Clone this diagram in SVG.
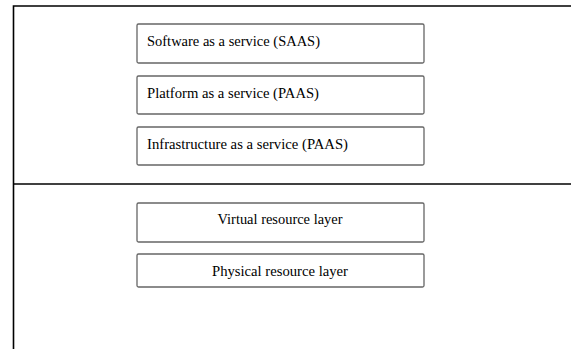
<svg xmlns="http://www.w3.org/2000/svg" width="571" height="349" viewBox="0 0 571 349">
<style>
.frame{stroke:#000;stroke-width:1.6;fill:none}
.box{fill:#fff;stroke:#666;stroke-width:1.3}
.lbl{font-family:"Liberation Serif","Times New Roman",serif;font-size:15px;fill:#000}
.c{text-anchor:middle}
</style>
<rect width="571" height="349" fill="#fff"/>
<g id="frame">
<path class="frame" d="M13.5,349 V6 H571"/>
<line class="frame" x1="13.5" y1="184" x2="571" y2="184"/>
</g>
<g id="connectors"></g>
<g id="saas">
<rect class="box" x="137" y="24" width="287" height="39" rx="1.5"/>
<text class="lbl" x="147" y="46" textLength="173" lengthAdjust="spacingAndGlyphs">Software as a service (SAAS)</text>
</g>
<g id="paas">
<rect class="box" x="137" y="76" width="287" height="38" rx="1.5"/>
<text class="lbl" x="147" y="97.5" textLength="172" lengthAdjust="spacingAndGlyphs">Platform as a service (PAAS)</text>
</g>
<g id="iaas">
<rect class="box" x="137" y="127" width="287" height="38" rx="1.5"/>
<text class="lbl" x="147" y="148.5" textLength="201" lengthAdjust="spacingAndGlyphs">Infrastructure as a service (PAAS)</text>
</g>
<g id="virtual">
<rect class="box" x="137" y="203" width="287" height="39" rx="1.5"/>
<text class="lbl c" x="280" y="223.5" textLength="125" lengthAdjust="spacingAndGlyphs">Virtual resource layer</text>
</g>
<g id="physical">
<rect class="box" x="137" y="254" width="287" height="33" rx="1.5"/>
<text class="lbl c" x="280" y="275.5" textLength="136" lengthAdjust="spacingAndGlyphs">Physical resource layer</text>
</g>
</svg>
